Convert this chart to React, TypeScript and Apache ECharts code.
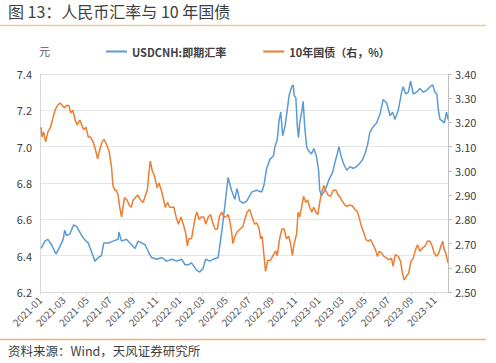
import React, { useEffect, useRef } from "react";
import * as echarts from "echarts";

const titleText = "图 13：人民币汇率与 10 年国债";
const sourceText = "资料来源：Wind，天风证券研究所";
const seriesNames = ["USDCNH:即期汇率", "10年国债（右，%）"];
const leftUnit = "元";

const usdDates = [
  "2021-01-04","2021-01-14","2021-01-22","2021-02-01","2021-02-09","2021-02-12","2021-02-21","2021-03-01","2021-03-05","2021-03-10",
  "2021-03-19","2021-03-29","2021-04-06","2021-04-19","2021-04-30","2021-05-06","2021-05-15","2021-05-24","2021-06-02","2021-06-10",
  "2021-06-16","2021-06-28","2021-07-11","2021-07-24","2021-07-26","2021-08-02","2021-08-15","2021-08-29","2021-09-07","2021-09-15",
  "2021-09-24","2021-10-03","2021-10-12","2021-10-20","2021-11-03","2021-11-16","2021-11-29","2021-12-12","2021-12-25","2022-01-08",
  "2022-01-17","2022-01-26","2022-02-03","2022-02-15","2022-02-23","2022-03-03","2022-03-10","2022-03-21","2022-03-30","2022-04-12",
  "2022-04-16","2022-04-23","2022-04-29","2022-05-08","2022-05-17","2022-05-26","2022-06-01","2022-06-08","2022-06-17","2022-06-26",
  "2022-07-09","2022-07-22","2022-08-05","2022-08-11","2022-08-18","2022-08-27","2022-09-05","2022-09-09","2022-09-15","2022-09-20",
  "2022-09-24","2022-09-29","2022-10-05","2022-10-11","2022-10-16","2022-10-23","2022-10-27","2022-10-30","2022-11-03","2022-11-07",
  "2022-11-10","2022-11-13","2022-11-19","2022-11-22","2022-11-26","2022-12-01","2022-12-05","2022-12-14","2022-12-20","2022-12-27",
  "2023-01-02","2023-01-05","2023-01-10","2023-01-16","2023-01-23","2023-01-30","2023-02-08","2023-02-13","2023-02-19","2023-02-23",
  "2023-02-28","2023-03-06","2023-03-15","2023-03-24","2023-04-02","2023-04-10","2023-04-19","2023-04-26","2023-05-02","2023-05-09",
  "2023-05-15","2023-05-24","2023-06-02","2023-06-11","2023-06-19","2023-06-28","2023-07-07","2023-07-14","2023-07-20","2023-07-29",
  "2023-08-07","2023-08-11","2023-08-18","2023-08-25","2023-08-31","2023-09-07","2023-09-16","2023-09-24","2023-10-03","2023-10-12",
  "2023-10-21","2023-10-28","2023-11-03","2023-11-08","2023-11-12","2023-11-16","2023-11-23","2023-11-27","2023-12-03","2023-12-07"
];
const usdValues = [
  6.44,6.48,6.49,6.46,6.42,6.41,6.45,6.49,6.54,6.51,
  6.52,6.57,6.56,6.51,6.48,6.47,6.42,6.37,6.39,6.40,
  6.47,6.47,6.48,6.49,6.53,6.48,6.49,6.46,6.44,6.48,
  6.47,6.46,6.42,6.39,6.38,6.39,6.37,6.38,6.37,6.38,
  6.35,6.35,6.36,6.32,6.31,6.33,6.38,6.37,6.38,6.39,
  6.45,6.56,6.67,6.83,6.76,6.71,6.77,6.70,6.69,6.70,
  6.75,6.76,6.75,6.79,6.88,6.93,6.95,7.00,7.04,7.15,
  7.19,7.06,7.11,7.20,7.28,7.33,7.34,7.28,7.27,7.11,
  7.05,7.13,7.20,7.25,7.11,7.00,6.98,6.96,6.99,6.95,
  6.87,6.76,6.73,6.75,6.78,6.82,6.86,6.91,6.96,7.00,
  6.95,6.91,6.87,6.89,6.88,6.89,6.91,6.93,6.96,7.01,
  7.08,7.11,7.13,7.18,7.26,7.24,7.17,7.19,7.15,7.20,
  7.30,7.33,7.29,7.30,7.36,7.29,7.30,7.32,7.30,7.31,
  7.33,7.34,7.30,7.29,7.20,7.15,7.14,7.13,7.19,7.15
];

const bondDates = [
  "2021-01-04","2021-01-06","2021-01-11","2021-01-16","2021-01-22","2021-01-29","2021-02-03","2021-02-09","2021-02-15","2021-02-21",
  "2021-02-27","2021-03-05","2021-03-09","2021-03-16","2021-03-21","2021-03-27","2021-04-02","2021-04-07","2021-04-14","2021-04-19",
  "2021-04-24","2021-04-30","2021-05-06","2021-05-12","2021-05-19","2021-05-25","2021-05-31","2021-06-06","2021-06-12","2021-06-17",
  "2021-06-23","2021-06-30","2021-07-06","2021-07-10","2021-07-15","2021-07-19","2021-07-24","2021-07-28","2021-08-02","2021-08-06",
  "2021-08-10","2021-08-17","2021-08-22","2021-08-28","2021-09-02","2021-09-08","2021-09-14","2021-09-21","2021-09-28","2021-10-04",
  "2021-10-09","2021-10-13","2021-10-17","2021-10-22","2021-10-28","2021-11-04","2021-11-09","2021-11-15","2021-11-21","2021-11-25",
  "2021-12-01","2021-12-07","2021-12-13","2021-12-18","2021-12-24","2021-12-30","2022-01-06","2022-01-10","2022-01-14","2022-01-19",
  "2022-01-23","2022-01-27","2022-02-03","2022-02-07","2022-02-12","2022-02-16","2022-02-21","2022-02-27","2022-03-05","2022-03-10",
  "2022-03-17","2022-03-23","2022-03-28","2022-04-04","2022-04-10","2022-04-15","2022-04-21","2022-04-27","2022-05-02","2022-05-08",
  "2022-05-13","2022-05-17","2022-05-21","2022-05-26","2022-06-02","2022-06-09","2022-06-16","2022-06-21","2022-06-27","2022-07-04",
  "2022-07-10","2022-07-17","2022-07-23","2022-07-29","2022-08-02","2022-08-06","2022-08-11","2022-08-15","2022-08-21","2022-08-28",
  "2022-09-04","2022-09-11","2022-09-15","2022-09-21","2022-09-27","2022-10-03","2022-10-09","2022-10-15","2022-10-20","2022-10-25",
  "2022-10-29","2022-11-05","2022-11-09","2022-11-13","2022-11-18","2022-11-23","2022-11-29","2022-12-04","2022-12-09","2022-12-15",
  "2022-12-20","2022-12-25","2022-12-31","2023-01-05","2023-01-10","2023-01-16","2023-01-21","2023-01-27","2023-02-03","2023-02-09",
  "2023-02-16","2023-02-21","2023-02-25","2023-03-03","2023-03-10","2023-03-16","2023-03-24","2023-03-31","2023-04-06","2023-04-12",
  "2023-04-17","2023-04-23","2023-04-29","2023-05-05","2023-05-11","2023-05-17","2023-05-24","2023-05-30","2023-06-04","2023-06-09",
  "2023-06-15","2023-06-21","2023-06-28","2023-07-05","2023-07-11","2023-07-15","2023-07-21","2023-07-29","2023-08-04","2023-08-09",
  "2023-08-14","2023-08-20","2023-08-26","2023-09-01","2023-09-07","2023-09-13","2023-09-18","2023-09-24","2023-10-01","2023-10-07",
  "2023-10-14","2023-10-21","2023-10-27","2023-11-01","2023-11-07","2023-11-13","2023-11-18","2023-11-23","2023-11-27","2023-12-01",
  "2023-12-07"
];
const bondValues = [
  3.18,3.14,3.16,3.12,3.16,3.18,3.21,3.25,3.27,3.28,
  3.27,3.26,3.27,3.27,3.24,3.25,3.21,3.19,3.21,3.19,
  3.17,3.18,3.14,3.14,3.12,3.09,3.05,3.09,3.12,3.13,
  3.11,3.08,3.02,2.94,2.92,2.92,2.90,2.85,2.81,2.85,
  2.89,2.88,2.86,2.85,2.88,2.89,2.90,2.88,2.87,2.90,
  2.92,2.99,3.04,3.00,2.98,2.93,2.95,2.92,2.88,2.85,
  2.87,2.85,2.85,2.85,2.81,2.78,2.81,2.79,2.77,2.74,
  2.69,2.72,2.72,2.76,2.81,2.83,2.80,2.81,2.81,2.78,
  2.81,2.82,2.79,2.76,2.76,2.81,2.83,2.81,2.81,2.82,
  2.79,2.75,2.70,2.73,2.75,2.76,2.77,2.80,2.83,2.84,
  2.81,2.78,2.785,2.76,2.72,2.73,2.65,2.585,2.63,2.63,
  2.65,2.67,2.65,2.72,2.76,2.76,2.72,2.73,2.70,2.65,
  2.695,2.74,2.83,2.81,2.85,2.895,2.87,2.88,2.85,2.83,
  2.85,2.83,2.82,2.87,2.91,2.94,2.92,2.90,2.895,2.92,
  2.92,2.90,2.895,2.875,2.86,2.854,2.86,2.854,2.84,2.833,
  2.806,2.77,2.744,2.716,2.71,2.716,2.695,2.675,2.647,2.668,
  2.661,2.647,2.64,2.633,2.64,2.606,2.654,2.647,2.627,2.578,
  2.55,2.565,2.578,2.627,2.64,2.675,2.695,2.668,2.682,2.688,
  2.71,2.71,2.688,2.661,2.647,2.661,2.688,2.71,2.675,2.661,
  2.62
];

const xTickLabels = [
  "2021-01","2021-03","2021-05","2021-07","2021-09","2021-11",
  "2022-01","2022-03","2022-05","2022-07","2022-09","2022-11",
  "2023-01","2023-03","2023-05","2023-07","2023-09","2023-11"
];

// date -> fractional month index since 2021-01-01
function monthIndex(d: string): number {
  const [y, m, day] = d.split("-").map(Number);
  const dim = new Date(y, m, 0).getDate();
  return (y - 2021) * 12 + (m - 1) + (day - 1) / dim;
}

const FONT = "'Noto Sans CJK SC', 'Noto Sans', sans-serif";

export default function App() {
  const ref = useRef<HTMLDivElement>(null);
  useEffect(() => {
    if (!ref.current) return;
    const chart = echarts.init(ref.current, undefined, { renderer: "svg" });
    const usdData = usdDates.map((d, i) => [monthIndex(d), usdValues[i]]);
    const bondData = bondDates.map((d, i) => [monthIndex(d), bondValues[i]]);
    const xMax = Math.max(
      monthIndex(usdDates[usdDates.length - 1]),
      monthIndex(bondDates[bondDates.length - 1])
    );
    chart.setOption({
      animation: false,
      backgroundColor: "#ffffff",
      textStyle: { fontFamily: FONT },
      grid: { left: 40, right: 48, top: 74, bottom: 71, containLabel: false },
      legend: {
        left: 106,
        top: 46,
        padding: 0,
        itemGap: 37,
        itemWidth: 21,
        itemHeight: 2,
        icon: "rect",
        textStyle: { fontSize: 11, fontWeight: "bold", color: "#404040", fontFamily: FONT },
        data: seriesNames,
      },
      xAxis: {
        type: "value",
        min: 0,
        max: xMax,
        interval: 2,
        axisLine: { show: true, lineStyle: { color: "#d9d9d9" } },
        axisTick: { show: true, length: 3, lineStyle: { color: "#d9d9d9" } },
        splitLine: { show: false },
        axisLabel: {
          rotate: 45,
          fontSize: 10,
          color: "#595959",
          margin: 6,
          showMaxLabel: false,
          formatter: (v: number) => {
            const i = Math.round(v / 2);
            return Math.abs(v - i * 2) < 1e-6 && xTickLabels[i] ? xTickLabels[i] : "";
          },
        },
      },
      yAxis: [
        {
          type: "value",
          min: 6.2,
          max: 7.4,
          interval: 0.2,
          axisLine: { show: true, lineStyle: { color: "#d9d9d9" } },
          axisTick: { show: false },
          splitLine: { show: true, lineStyle: { color: "#e6e6e6" } },
          axisLabel: { fontSize: 11, color: "#404040", margin: 8, formatter: (v: number) => v.toFixed(1) },
        },
        {
          type: "value",
          min: 2.5,
          max: 3.4,
          interval: 0.1,
          position: "right",
          axisLine: { show: true, lineStyle: { color: "#bfbfbf" } },
          axisTick: { show: true, length: 4, inside: false, lineStyle: { color: "#bfbfbf" } },
          splitLine: { show: false },
          axisLabel: { fontSize: 11, color: "#404040", margin: 7, formatter: (v: number) => v.toFixed(2) },
        },
      ],
      series: [
        {
          name: seriesNames[0],
          type: "line",
          yAxisIndex: 0,
          showSymbol: false,
          symbol: "none",
          lineStyle: { color: "#5b9bd5", width: 1.5 },
          itemStyle: { color: "#5b9bd5" },
          data: usdData,
        },
        {
          name: seriesNames[1],
          type: "line",
          yAxisIndex: 1,
          showSymbol: false,
          symbol: "none",
          lineStyle: { color: "#ed7d31", width: 1.5 },
          itemStyle: { color: "#ed7d31" },
          data: bondData,
        },
      ],
      graphic: [
        {
          type: "text",
          left: 8,
          top: 3,
          style: { text: titleText, fontSize: 16, fill: "#404040", fontFamily: FONT },
        },
        {
          type: "line",
          shape: { x1: 0, y1: 25.5, x2: 486, y2: 25.5 },
          style: { stroke: "#e8c9a0", lineWidth: 1.5 },
        },
        {
          type: "text",
          left: 39,
          top: 45,
          style: { text: leftUnit, fontSize: 11, fill: "#595959", fontFamily: FONT },
        },
        {
          type: "line",
          shape: { x1: 0, y1: 339.5, x2: 486, y2: 339.5 },
          style: { stroke: "#f2b07a", lineWidth: 1.5 },
        },
        {
          type: "text",
          left: 8,
          top: 344,
          style: { text: sourceText, fontSize: 12.5, fill: "#404040", fontFamily: FONT },
        },
      ],
    });
    return () => chart.dispose();
  }, []);
  return (
    <div
      ref={ref}
      style={{ position: "fixed", left: 0, top: 0, width: 496, height: 363, background: "#fff" }}
    />
  );
}
